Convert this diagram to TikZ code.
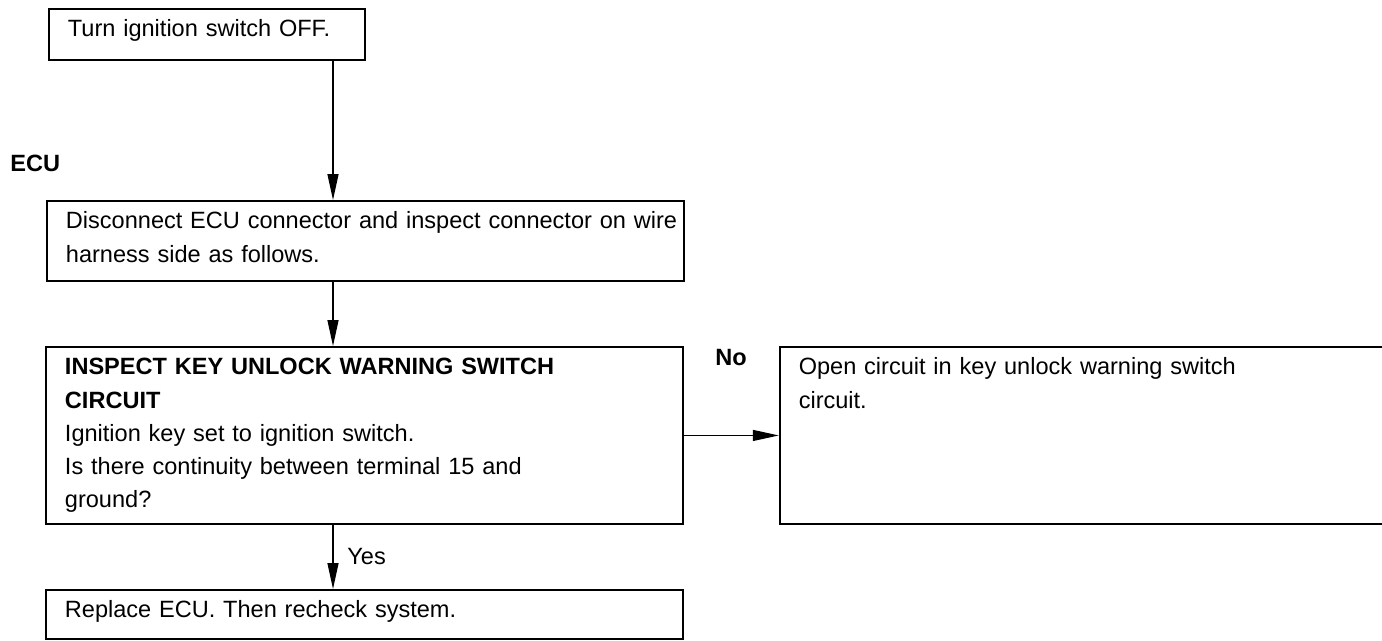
\documentclass[tikz,border=0pt]{standalone}
\usepackage{fontspec}
\setmainfont{Liberation Sans}
\usetikzlibrary{positioning, arrows.meta, calc}
\tikzset{
  % --- flow chart boxes (text kept at the top) ---
  stepbox/.style={draw, rectangle, anchor=north west, align=left,
    font=\fontsize{13.4}{18.8}\selectfont, line width=1.1pt,
    inner xsep=0.38cm, inner ysep=0.22cm, text height=0.34cm},
  widebox/.style={stepbox, text width=11.98cm},
  % --- connectors and their labels ---
  flow/.style={-{Triangle[length=0.52cm, width=0.22cm]}, line width=0.75pt},
  flowlabel/.style={font=\fontsize{13.4}{16}\selectfont, anchor=base west, inner sep=0pt},
  boldlabel/.style={flowlabel, font=\fontsize{13.4}{16}\selectfont\bfseries},
}

\begin{document}
\begin{tikzpicture}[x=0.02cm, y=-0.02cm]
  \useasboundingbox (0,0) rectangle (1382,640);
  % ---- Steps: left column ----
  \node[stepbox, text width=5.56cm, text depth=0.24cm] (off) at (48,8) {Turn ignition switch OFF.};
  \node[widebox, text depth=0.82cm] (disc) at (46,200)
    {\mbox{Disconnect ECU connector and inspect connector on wire}\\harness side as follows.};
  \node[widebox, text depth=2.76cm] (insp) at (45,346)
    {\textbf{INSPECT KEY UNLOCK WARNING SWITCH}\\\textbf{CIRCUIT}\\Ignition key set to ignition switch.\\Is there continuity between terminal 15 and\\ground?};
  \node[widebox, text depth=0.2cm] (repl) at (45,589) {Replace ECU. Then recheck system.};
  % ---- Result: right column ----
  \node[stepbox, text width=11.3cm, text depth=2.76cm, right=1.9cm of insp] (open)
    {Open circuit in key unlock warning switch\\circuit.};
  % ---- Labels ----
  \node[boldlabel] (ecu) at (10,171) {ECU};
  \node[boldlabel] (no) at (715,365) {No};
  \node[flowlabel] (yes) at (347,564) {Yes};
  % ---- Connectors ----
  \coordinate (trunk) at (333,0);
  \draw[flow] (trunk |- off.south) -- (trunk |- disc.north);
  \draw[flow] (trunk |- disc.south) -- (trunk |- insp.north);
  \draw[flow] (trunk |- insp.south) -- (trunk |- repl.north);
  \draw[flow] (insp.east) -- (open.west);
\end{tikzpicture}
\end{document}
